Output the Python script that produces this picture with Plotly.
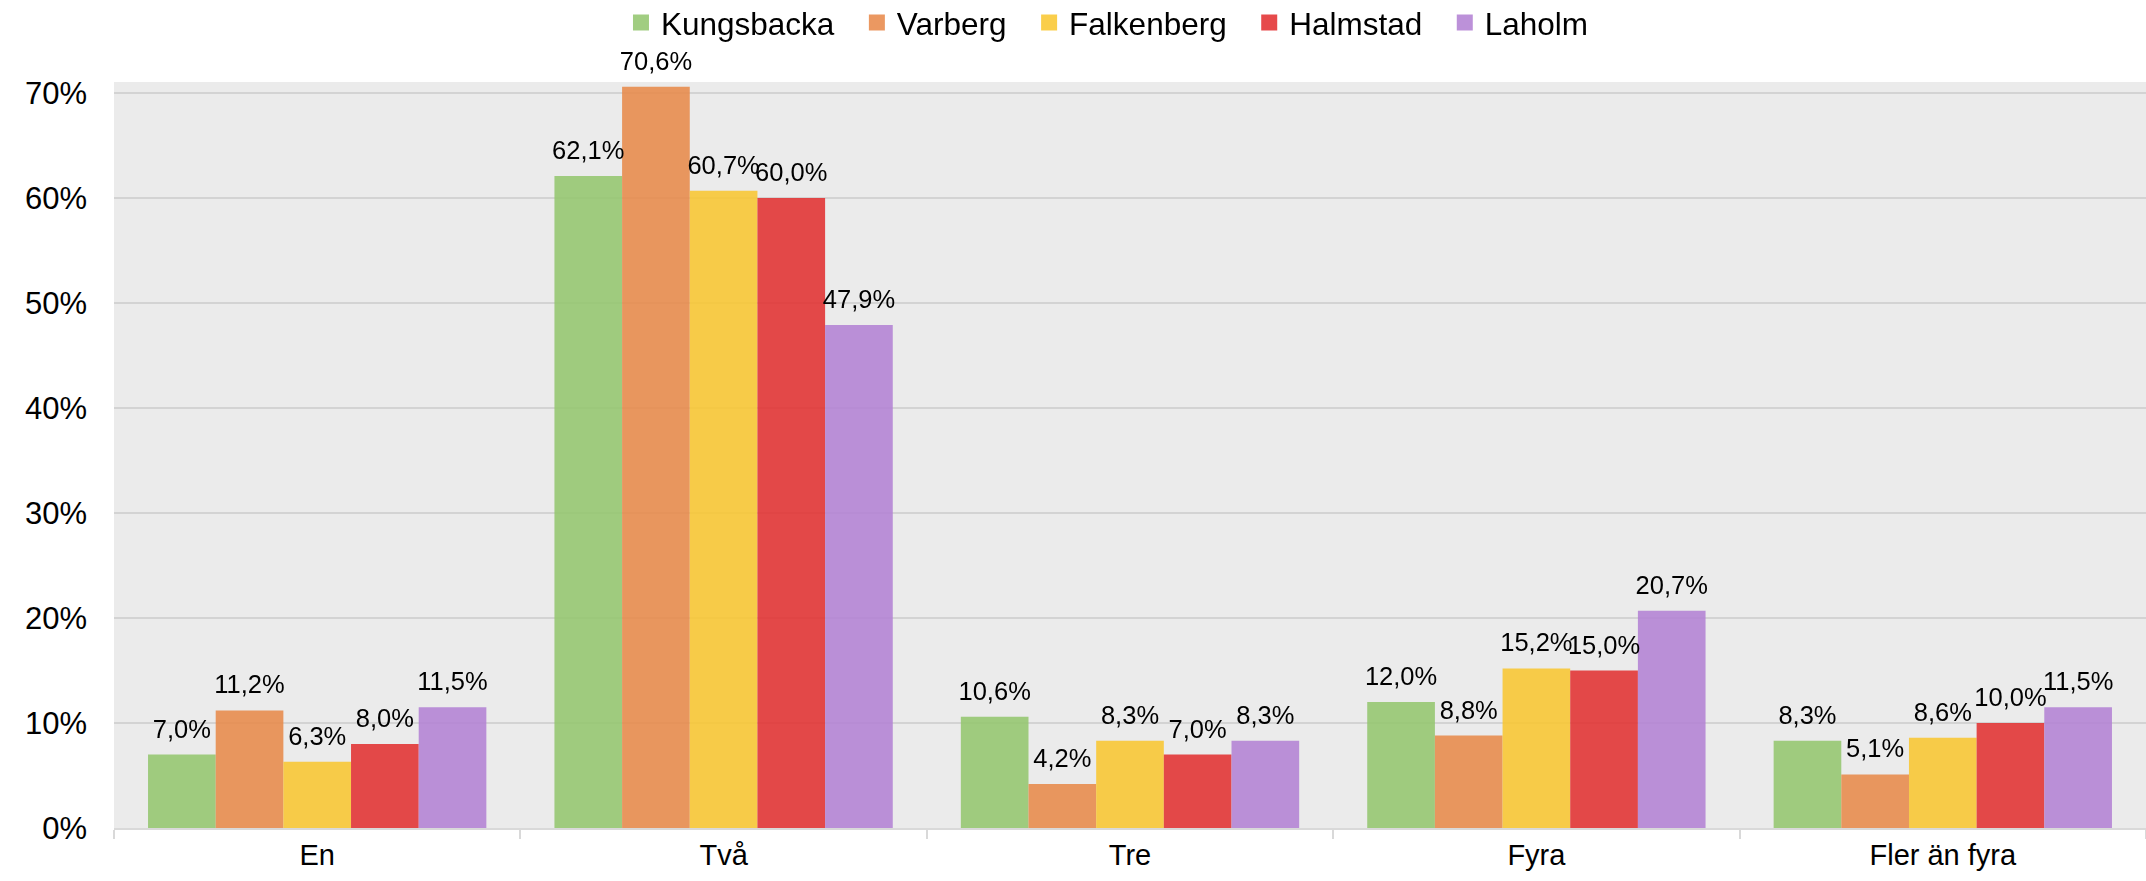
import plotly.graph_objects as go

categories = ["En", "Två", "Tre", "Fyra", "Fler än fyra"]
series_names = ["Kungsbacka", "Varberg", "Falkenberg", "Halmstad", "Laholm"]
kungsbacka = [7.0, 62.1, 10.6, 12.0, 8.3]
varberg = [11.2, 70.6, 4.2, 8.8, 5.1]
falkenberg = [6.3, 60.7, 8.3, 15.2, 8.6]
halmstad = [8.0, 60.0, 7.0, 15.0, 10.0]
laholm = [11.5, 47.9, 8.3, 20.7, 11.5]
series_values = [kungsbacka, varberg, falkenberg, halmstad, laholm]
colors = ["rgb(148,198,111)", "rgb(232,138,75)", "rgb(249,199,50)",
          "rgb(226,49,50)", "rgb(179,130,212)"]
y_ticks = [0, 10, 20, 30, 40, 50, 60, 70]

FONT = "Arial, Liberation Sans, sans-serif"
GAP = 0.1675
fig = go.Figure()

for i, (name, vals, col) in enumerate(zip(series_names, series_values, colors)):
    fig.add_trace(go.Bar(
        x=categories, y=vals, name=name, legendgroup=name, showlegend=False,
        offsetgroup=str(i),
        marker=dict(color=col, line=dict(width=0)), opacity=0.88,
        hoverinfo="x+y+name",
    ))

for i, (name, vals) in enumerate(zip(series_names, series_values)):
    # value labels, grouped like the bars; invisible marker only sets the text offset
    fig.add_trace(go.Scatter(
        x=categories, y=vals, mode="markers+text", offsetgroup=str(i),
        showlegend=False, hoverinfo="skip", cliponaxis=False,
        marker=dict(size=15.4, opacity=0, color="black"),
        text=[f"{v:.1f}%".replace(".", ",") for v in vals],
        textposition="top center",
        textfont=dict(family=FONT, size=25.5, color="black"),
    ))

for i, (name, col) in enumerate(zip(series_names, colors)):
    fig.add_trace(go.Scatter(
        x=[None], y=[None], mode="markers", name=name + "\u00a0\u00a0",
        legendgroup=name, showlegend=True, offsetgroup=str(i),
        marker=dict(symbol="square", size=16, color=col, opacity=0.88,
                    line=dict(width=0)),
    ))

fig.update_layout(
    width=2146, height=881,
    margin=dict(l=114, r=0, t=82, b=53, pad=0, autoexpand=False),
    paper_bgcolor="white", plot_bgcolor="#EBEBEB",
    barmode="group", bargap=GAP, bargroupgap=0,
    scattermode="group", scattergap=GAP,
    separators=", ",
    font=dict(family=FONT, color="black"),
    showlegend=True,
    legend=dict(orientation="h", x=0.2495, xanchor="left", y=1.116, yanchor="top",
                font=dict(family=FONT, size=31.5, color="black"),
                bgcolor="rgba(0,0,0,0)", itemclick=False, itemdoubleclick=False),
    xaxis=dict(type="category", tickson="boundaries", ticks="outside", ticklen=9,
               tickwidth=2, tickcolor="#D9D9D9", showline=True, linecolor="#D9D9D9",
               linewidth=2, showgrid=False, zeroline=False,
               tickfont=dict(family=FONT, size=29, color="black")),
    yaxis=dict(range=[0, 71.05], tickmode="array", tickvals=y_ticks,
               ticktext=[f"{v}%" for v in y_ticks], ticks="", showgrid=True,
               gridcolor="#D3D3D3", gridwidth=2, zeroline=False, showline=False,
               ticklabelstandoff=26,
               tickfont=dict(family=FONT, size=31, color="black")),
)

fig.write_html("out.html", config={"displayModeBar": False},
               post_script="document.body.style.margin='0';document.body.style.overflow='hidden';")
